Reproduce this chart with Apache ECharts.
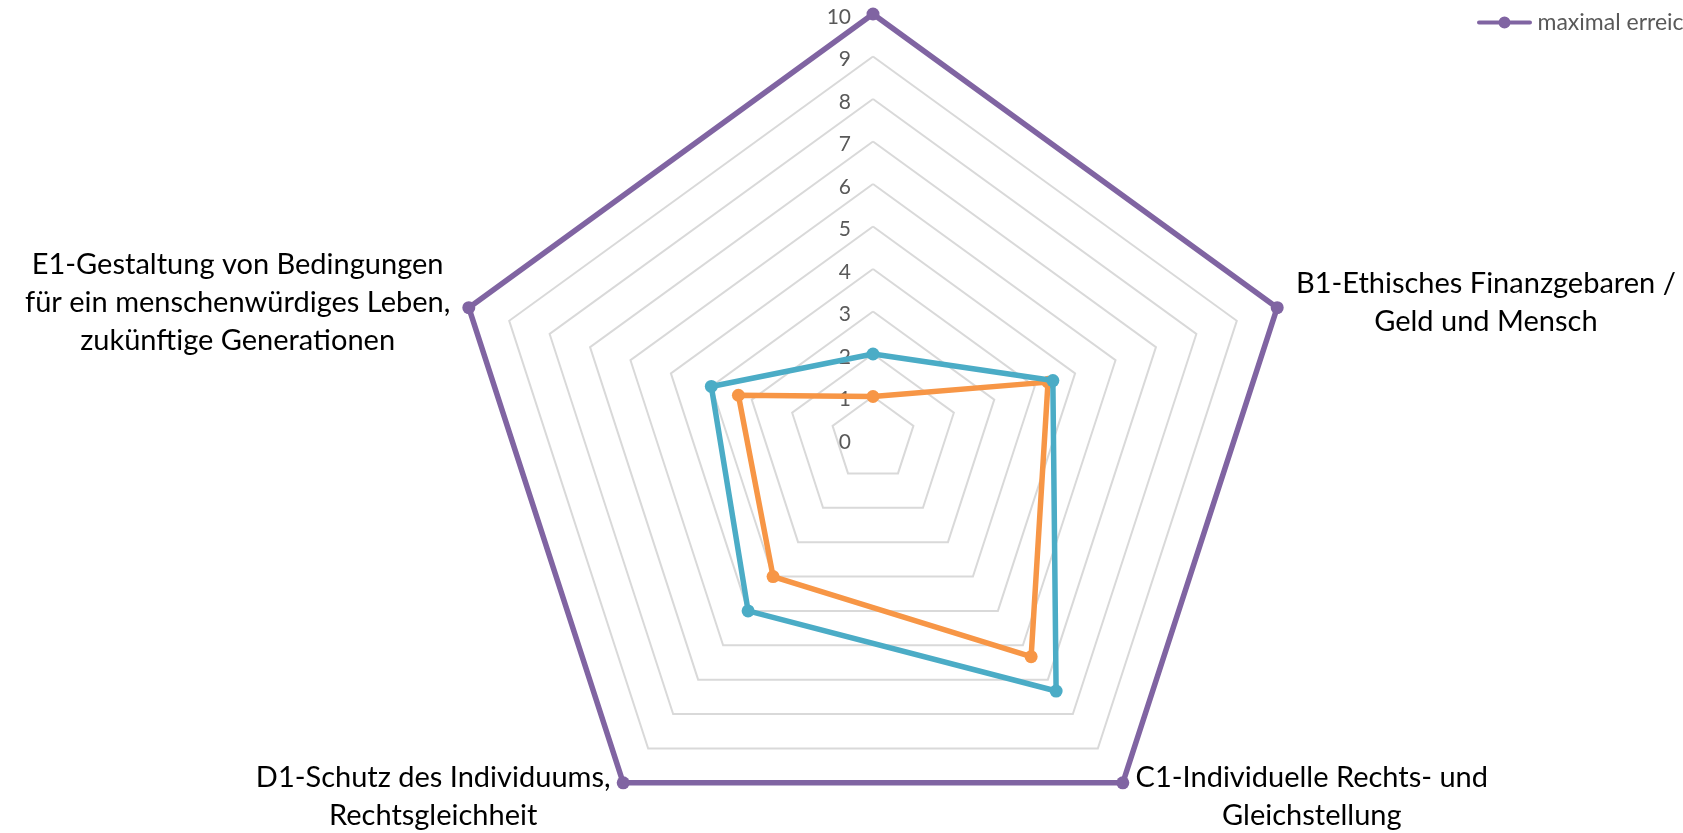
<!DOCTYPE html>
<html><head><meta charset="utf-8">
<script src="https://cdn.jsdelivr.net/npm/echarts@6/dist/echarts.min.js"></script>
<style>html,body{margin:0;padding:0;background:#fff;overflow:hidden}#c{width:1683px;height:833px}</style>
</head><body><div id="c"></div>
<script>
// Categories in the reference's clockwise order, starting at the top
const categories = [
  '',
  'B1-Ethisches Finanzgebaren /\nGeld und Mensch',
  'C1-Individuelle Rechts- und\nGleichstellung',
  'D1-Schutz des Individuums,\nRechtsgleichheit',
  'E1-Gestaltung von Bedingungen\nfür ein menschenwürdiges Leben,\nzukünftige Generationen'
];
const seriesNames = ['maximal erreichbar', 'Bewertung 1', 'Bewertung 2'];
const maxValues = [10, 10, 10, 10, 10];
const blueValues = [2, 4.45, 7.33, 5, 4];
const orangeValues = [1, 4.33, 6.33, 4, 3.33];
const tickLabels = ['0','1','2','3','4','5','6','7','8','9','10'];
const axisMax = 10;

// ECharts lays radar indicators counter-clockwise; reorder to get clockwise
const order = [0, 4, 3, 2, 1];
const re = arr => order.map(i => arr[i]);

const font = 'Lato, "Open Sans", sans-serif';
const richBase = {fontSize: 29, lineHeight: 38, fontFamily: font, color: '#000', align: 'center'};
const rich = {
  B: Object.assign({}, richBase, {width: 385}),
  C: Object.assign({}, richBase, {width: 358}),
  D: Object.assign({}, richBase, {width: 360}),
  E: Object.assign({}, richBase, {width: 430})
};

const chart = echarts.init(document.getElementById('c'), null, {renderer: 'canvas'});
chart.setOption({
  animation: false,
  backgroundColor: '#fff',
  legend: {
    data: [{name: seriesNames[0], icon: 'path://M2,4h51a2,2 0 0 1 0,4h-51a2,2 0 0 1 0,-4z M21.5,6a6,6 0 1,1 12,0a6,6 0 1,1 -12,0z'}],
    left: 1472, top: 6, itemWidth: 56, itemHeight: 12,
    textStyle: {fontSize: 23, color: '#595959', fontFamily: font}
  },
  grid: {left: 873, top: 17, height: 425, width: 1},
  xAxis: {type: 'value', show: false},
  yAxis: {
    type: 'category', data: tickLabels, boundaryGap: false,
    axisLine: {show: false}, axisTick: {show: false}, splitLine: {show: false},
    axisLabel: {color: '#595959', fontSize: 21, fontFamily: font, margin: 22}
  },
  radar: {
    center: [873, 439], radius: 425, startAngle: 90, splitNumber: 10, shape: 'polygon',
    indicator: re(categories).map(n => ({name: n, min: 0, max: axisMax})),
    axisLine: {show: false}, axisTick: {show: false}, axisLabel: {show: false},
    splitLine: {lineStyle: {color: '#d9d9d9', width: 2}},
    splitArea: {show: false},
    nameGap: 17,
    axisName: {
      color: '#000', fontSize: 29, fontFamily: font,
      formatter: function (name) {
        if (!name) return '';
        const key = name.charAt(0);
        return name.split('\n').map(l => '{' + key + '|' + l + '}').join('\n');
      },
      rich: rich
    }
  },
  series: [
    {type: 'radar', name: seriesNames[0], z: 2, symbol: 'circle', symbolSize: 13,
     lineStyle: {color: '#8064A2', width: 5.5, join: 'round'}, itemStyle: {color: '#8064A2'},
     data: [{name: seriesNames[0], value: re(maxValues)}]},
    {type: 'radar', name: seriesNames[2], z: 3, symbol: 'circle', symbolSize: 13,
     lineStyle: {color: '#F79646', width: 5.5, join: 'round'}, itemStyle: {color: '#F79646'},
     data: [{name: seriesNames[2], value: re(orangeValues)}]},
    {type: 'radar', name: seriesNames[1], z: 4, symbol: 'circle', symbolSize: 13,
     lineStyle: {color: '#4BACC6', width: 5.5, join: 'round'}, itemStyle: {color: '#4BACC6'},
     data: [{name: seriesNames[1], value: re(blueValues)}]}
  ]
});
</script></body></html>
